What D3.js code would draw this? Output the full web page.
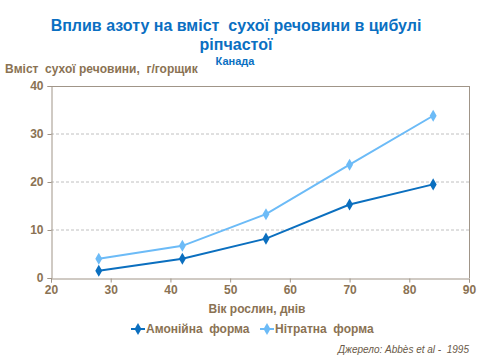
<!DOCTYPE html>
<html><head><meta charset="utf-8">
<script src="https://cdn.jsdelivr.net/npm/d3@7"></script>
<style>
body{margin:0;background:#fff;}
text{font-family:"Liberation Sans",Arial,sans-serif;white-space:pre;}
</style></head>
<body><svg id="c" width="480" height="360"></svg>
<script>
const days = [28, 42, 56, 70, 84];
const ammonium = [1.5, 4.0, 8.2, 15.3, 19.5];
const nitrate = [4.0, 6.7, 13.3, 23.6, 33.8];
const seriesNames = ["Амонійна  форма", "Нітратна  форма"];
const xTicks = [20, 30, 40, 50, 60, 70, 80, 90];
const yTicks = [0, 10, 20, 30, 40];
const colors = ["#0b6fbf", "#6cbbf7"];

const svg = d3.select("#c");
const L = 51, R = 469, T = 86, B = 278;
const x = d3.scaleLinear().domain([20, 90]).range([L, R]);
const y = d3.scaleLinear().domain([0, 40]).range([B, T]);
const textCol = "#8a7253";
const axisCol = "#a09588";

// gridlines
svg.append("g").selectAll("line").data(yTicks.filter(d => d > 0 && d < 40)).join("line")
  .attr("x1", L).attr("x2", R).attr("y1", d => y(d)).attr("y2", d => y(d))
  .attr("stroke", "#c0c0c0").attr("stroke-dasharray", "3,2").attr("stroke-width", 1);
// plot border top/right
svg.append("line").attr("x1", L).attr("x2", R).attr("y1", T + 0.5).attr("y2", T + 0.5).attr("stroke", axisCol);
svg.append("line").attr("x1", R + 0.5).attr("x2", R + 0.5).attr("y1", T).attr("y2", B).attr("stroke", axisCol);

// axes
const xa = svg.append("g").attr("transform", `translate(0,${B + 0.5})`)
  .call(d3.axisBottom(x).tickValues(xTicks).tickSize(4).tickPadding(3));
const ya = svg.append("g").attr("transform", `translate(${L + 0.5},0)`)
  .call(d3.axisLeft(y).tickValues(yTicks).tickSize(4).tickPadding(4));
[xa, ya].forEach(a => {
  a.selectAll("path, line").attr("stroke", axisCol);
  a.selectAll("text").attr("fill", textCol).attr("font-size", 12).attr("font-weight", "bold")
    .attr("font-family", "Liberation Sans, Arial, sans-serif");
});

// series
const diamond = d3.symbol().type(d3.symbolDiamond).size(42);
[ammonium, nitrate].forEach((vals, i) => {
  const pts = days.map((d, j) => [d, vals[j]]);
  svg.append("path").datum(pts)
    .attr("d", d3.line().x(d => x(d[0])).y(d => y(d[1])))
    .attr("fill", "none").attr("stroke", colors[i]).attr("stroke-width", 2);
  svg.append("g").selectAll("path").data(pts).join("path")
    .attr("d", diamond).attr("transform", d => `translate(${x(d[0])},${y(d[1])})`)
    .attr("fill", colors[i]);
});

// titles
svg.append("text").attr("x", 236).attr("y", 31).attr("text-anchor", "middle")
  .attr("font-size", 16).attr("font-weight", "bold").attr("fill", "#0a6fc2")
  .text("Вплив азоту на вміст  сухої речовини в цибулі");
svg.append("text").attr("x", 236).attr("y", 50).attr("text-anchor", "middle")
  .attr("font-size", 16).attr("font-weight", "bold").attr("fill", "#0a6fc2")
  .text("ріпчастої");
svg.append("text").attr("x", 235).attr("y", 65).attr("text-anchor", "middle")
  .attr("font-size", 11).attr("font-weight", "bold").attr("fill", "#0a6fc2")
  .text("Канада");
svg.append("text").attr("x", 5).attr("y", 73)
  .attr("font-size", 12).attr("font-weight", "bold").attr("fill", textCol)
  .text("Вміст  сухої речовини,  г/горщик");
svg.append("text").attr("x", 257).attr("y", 313).attr("text-anchor", "middle")
  .attr("font-size", 12).attr("font-weight", "bold").attr("fill", textCol)
  .text("Вік рослин, днів");

// legend
const legX = [131, 260];
seriesNames.forEach((n, i) => {
  const g = svg.append("g").attr("transform", `translate(${legX[i]},329)`);
  g.append("line").attr("x1", 0).attr("x2", 14).attr("stroke", colors[i]).attr("stroke-width", 2);
  g.append("path").attr("d", diamond).attr("transform", "translate(7,0)").attr("fill", colors[i]);
  g.append("text").attr("x", 15).attr("y", 4).attr("font-size", 12).attr("font-weight", "bold")
    .attr("fill", textCol).text(n);
});

svg.append("text").attr("x", 469).attr("y", 353).attr("text-anchor", "end")
  .attr("font-size", 10).attr("font-style", "italic").attr("fill", "#6a5a48")
  .text("Джерело: Abbès et al -  1995");
</script></body></html>
